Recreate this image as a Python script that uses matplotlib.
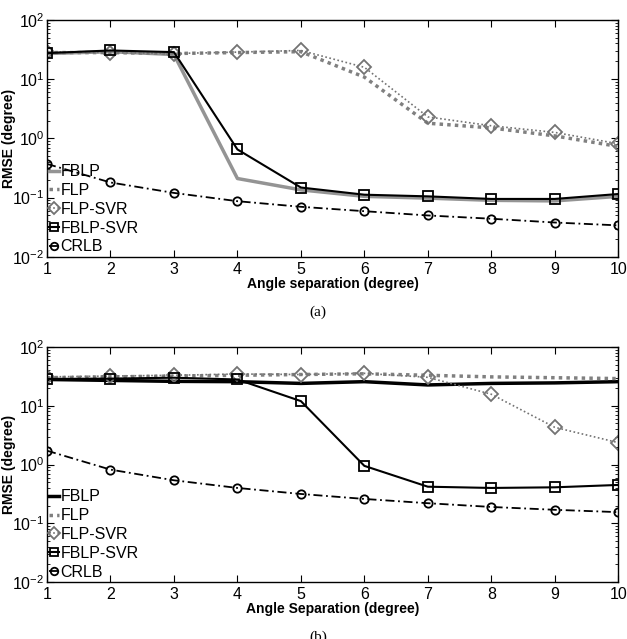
import numpy as np
import matplotlib
matplotlib.use("Agg")
import matplotlib.pyplot as plt
from matplotlib.ticker import LogLocator, NullFormatter, FixedLocator

plt.rcParams['font.family'] = ['Liberation Sans', 'DejaVu Sans']
plt.rcParams['mathtext.fontset'] = 'custom'
plt.rcParams['mathtext.rm'] = 'Liberation Sans'

angles = [1, 2, 3, 4, 5, 6, 7, 8, 9, 10]

# (a)
a_fblp = [27, 29, 26, 0.21, 0.135, 0.105, 0.098, 0.09, 0.088, 0.105]
a_flp = [28, 28, 27, 28, 29, 10.8, 1.8, 1.5, 1.1, 0.73]
a_flp_svr = [29, 28, 27, 28.5, 30.4, 15.8, 2.3, 1.63, 1.26, 0.81]
a_fblp_svr = [27.4, 30.4, 28.5, 0.65, 0.148, 0.112, 0.105, 0.095, 0.095, 0.115]
a_crlb = [0.37, 0.18, 0.12, 0.087, 0.07, 0.059, 0.050, 0.044, 0.038, 0.034]

# (b)
b_fblp = [28, 27, 26, 25.7, 24, 25.7, 22.6, 24, 24.5, 25.7]
b_flp = [30, 31, 32, 33, 34, 35, 33, 31, 30, 29]
b_flp_svr = [31, 32, 33, 34.7, 34, 35.6, 30.5, 15.7, 4.3, 2.36]
b_fblp_svr = [28.6, 29, 30, 28, 12, 0.95, 0.42, 0.40, 0.41, 0.45]
b_crlb = [1.72, 0.82, 0.54, 0.40, 0.316, 0.26, 0.22, 0.19, 0.17, 0.155]

labels = ['FBLP', 'FLP', 'FLP-SVR', 'FBLP-SVR', 'CRLB']

fig = plt.figure(figsize=(6.27, 6.39), dpi=100)
ax1 = fig.add_axes([0.075, 0.598, 0.911, 0.371])
ax2 = fig.add_axes([0.075, 0.089, 0.911, 0.368])


def draw(ax, fblp, flp, flp_svr, fblp_svr, crlb, fblp_color, xlabel):
    ax.plot(angles, fblp, color=fblp_color, lw=2.5, label=labels[0])
    ax.plot(angles, flp, color='0.5', lw=2.5, ls=(0, (1, 1.2)), label=labels[1])
    ax.plot(angles, flp_svr, color='0.45', lw=1.2, ls=(0, (1, 1.5)), marker='D',
            ms=7, mfc='none', mec='0.45', mew=1.3, label=labels[2])
    ax.plot(angles, fblp_svr, color='black', lw=1.5, marker='s', ms=6.5,
            mfc='none', mec='black', mew=1.3, label=labels[3])
    ax.plot(angles, crlb, color='black', lw=1.3, ls=(0, (5, 2, 1, 2)), marker='o',
            ms=6, mfc='none', mec='black', mew=1.3, label=labels[4])
    ax.set_yscale('log')
    ax.set_xlim(1, 10)
    ax.set_ylim(1e-2, 1e2)
    ax.xaxis.set_major_locator(FixedLocator(angles))
    ax.yaxis.set_major_locator(LogLocator(base=10, numticks=10))
    ax.yaxis.set_minor_locator(LogLocator(base=10, subs=np.arange(2, 10), numticks=10))
    ax.yaxis.set_minor_formatter(NullFormatter())
    ax.tick_params(which='both', direction='in', top=True, right=True, labelsize=11.5)
    ax.tick_params(axis='y', pad=2)
    ax.tick_params(which='major', length=5)
    ax.tick_params(which='minor', length=2.5)
    for s in ax.spines.values():
        s.set_linewidth(1.0)
    ax.set_xlabel(xlabel, fontsize=10, fontweight='bold', labelpad=0)
    ax.set_ylabel('RMSE (degree)', fontsize=10, fontweight='bold')
    ax.yaxis.set_label_coords(-0.055, 0.5)
    ax.legend(loc='lower left', frameon=False, fontsize=11.5, handlelength=0.6,
              handletextpad=0.1, borderaxespad=0.05, borderpad=0.1, labelspacing=0.24,
              markerscale=0.9)


draw(ax1, a_fblp, a_flp, a_flp_svr, a_fblp_svr, a_crlb, '0.58', 'Angle separation (degree)')
draw(ax2, b_fblp, b_flp, b_flp_svr, b_fblp_svr, b_crlb, 'black', 'Angle Separation (degree)')

fig.text(0.507, 0.512, '(a)', ha='center', va='center', fontsize=11, family='Liberation Serif')
fig.text(0.507, 0.014, '(b)', ha='center', va='top', fontsize=11, family='Liberation Serif')

fig.savefig('out.png', dpi=100)
